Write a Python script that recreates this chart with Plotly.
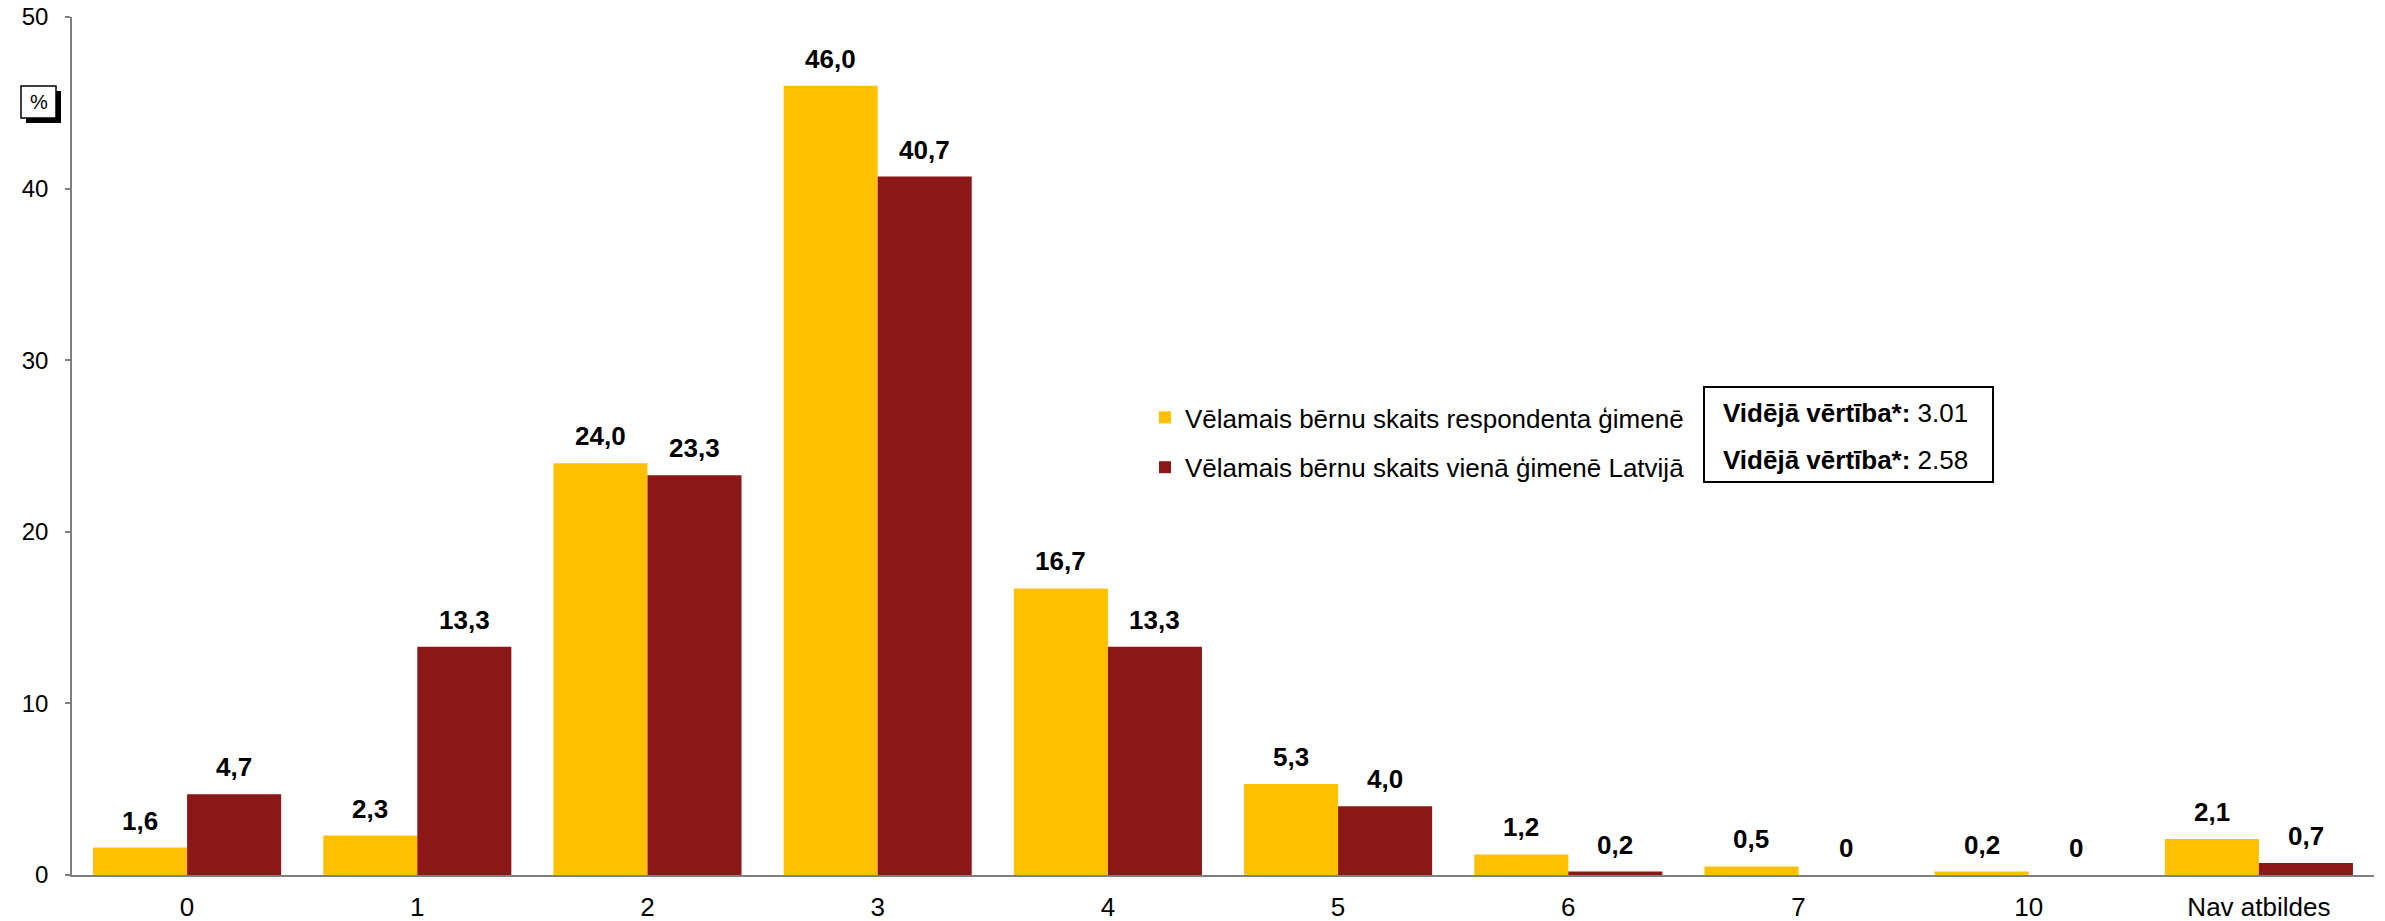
import plotly.graph_objects as go

categories = ["0", "1", "2", "3", "4", "5", "6", "7", "10", "Nav atbildes"]
respondent = [1.6, 2.3, 24.0, 46.0, 16.7, 5.3, 1.2, 0.5, 0.2, 2.1]
latvia = [4.7, 13.3, 23.3, 40.7, 13.3, 4.0, 0.2, 0, 0, 0.7]
series_names = ["Vēlamais bērnu skaits respondenta ģimenē",
                "Vēlamais bērnu skaits vienā ģimenē Latvijā"]
mean_values = ["3.01", "2.58"]
y_ticks = [0, 10, 20, 30, 40, 50]

YELLOW = "#FFC000"
RED = "#8B1718"
FONT = "Liberation Sans, Arial, sans-serif"
BARGAP = 0.183


def fmt(v):
    return "0" if v == 0 else f"{v:.1f}".replace(".", ",")


fig = go.Figure()
for name, vals, col, grp in [(series_names[0], respondent, YELLOW, "a"),
                             (series_names[1], latvia, RED, "b")]:
    fig.add_trace(go.Bar(
        x=categories, y=vals, name=name, marker_color=col,
        marker_line_width=0, legendgroup=grp,
    ))

W, H = 2385, 921
L, R, T, B = 72, 11, 17, 46
pw, ph = W - L - R, H - T - B


def px2x(px):
    return (px - L) / pw


def px2y(py):
    return (H - B - py) / ph


shapes = [
    # % box shadow and box
    dict(type="rect", xref="paper", yref="paper",
         x0=px2x(26), x1=px2x(61), y0=px2y(123), y1=px2y(91),
         fillcolor="black", line=dict(width=0), layer="above"),
    dict(type="rect", xref="paper", yref="paper",
         x0=px2x(21), x1=px2x(56), y0=px2y(118), y1=px2y(86),
         fillcolor="white", line=dict(color="black", width=1.5), layer="above"),
    # mean value box
    dict(type="rect", xref="paper", yref="paper",
         x0=px2x(1704), x1=px2x(1993), y0=px2y(482), y1=px2y(387),
         fillcolor="rgba(0,0,0,0)", line=dict(color="black", width=2)),
]

annotations = [
    dict(text="%", xref="paper", yref="paper", x=px2x(38.5), y=px2y(102),
         showarrow=False, font=dict(family=FONT, size=20, color="black"),
         xanchor="center", yanchor="middle"),
]
for i, mv in enumerate(mean_values):
    annotations.append(dict(
        text=f"<b>Vidējā vērtība*:</b> {mv}", xref="paper", yref="paper",
        x=px2x(1721), y=px2y(413 + 47 * i), xanchor="left", yanchor="middle",
        showarrow=False, font=dict(family=FONT, size=26, color="black")))

# value labels above bars (positioned on the category axis via index offsets)
half = (1 - BARGAP) / 4
for s, vals in enumerate([respondent, latvia]):
    off = -half if s == 0 else half
    for i, v in enumerate(vals):
        annotations.append(dict(
            text=f"<b>{fmt(v)}</b>", x=i + off, y=v, xref="x", yref="y",
            xanchor="center", yanchor="bottom", yshift=10, showarrow=False,
            font=dict(family=FONT, size=26, color="black")))

fig.update_layout(
    width=W, height=H,
    margin=dict(l=L, r=R, t=T, b=B, autoexpand=False),
    paper_bgcolor="white", plot_bgcolor="white",
    barmode="group", bargap=BARGAP, bargroupgap=0,
    font=dict(family=FONT, color="black"),
    showlegend=True,
    legend=dict(x=px2x(1145), y=px2y(394), xanchor="left", yanchor="top",
                font=dict(family=FONT, size=26, color="black"),
                bgcolor="rgba(0,0,0,0)", tracegroupgap=13,
                traceorder="grouped"),
    shapes=shapes, annotations=annotations,
    xaxis=dict(showline=True, linecolor="#808080", linewidth=1.5,
               ticks="", showgrid=False, automargin=False,
               tickfont=dict(family=FONT, size=26, color="black"),
               ticklabelstandoff=8),
    yaxis=dict(range=[0, 50], tickvals=y_ticks, showline=True,
               linecolor="#808080", linewidth=1.5, ticks="outside",
               ticklen=5, tickcolor="#808080", tickwidth=1.5,
               showgrid=False, zeroline=False, automargin=False,
               tickfont=dict(family=FONT, size=24, color="black"),
               ticklabelstandoff=12),
)

fig.write_html(
    "out.html",
    config={"displayModeBar": False},
    post_script="document.body.style.margin='0';document.body.style.overflow='hidden';",
)
